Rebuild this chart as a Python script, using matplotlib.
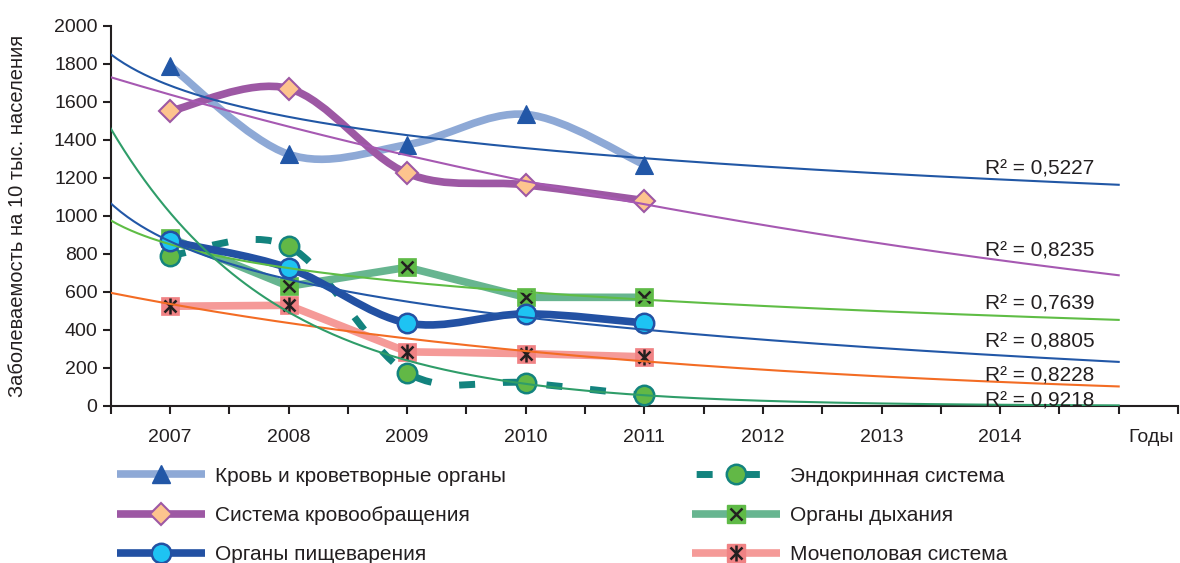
import numpy as np
import matplotlib
matplotlib.use("Agg")
import matplotlib.pyplot as plt
from matplotlib.path import Path
from matplotlib.patches import PathPatch
from matplotlib.lines import Line2D
from matplotlib.legend_handler import HandlerTuple

plt.rcParams['font.family'] = ['Liberation Sans', 'DejaVu Sans']

# ---- data -------------------------------------------------------------
years = [2007, 2008, 2009, 2010, 2011]
tick_years = [2007, 2008, 2009, 2010, 2011, 2012, 2013, 2014]

blood = [1790, 1325, 1375, 1535, 1270]          # Кровь и кроветворные органы
circulation = [1552, 1671, 1225, 1164, 1081]    # Система кровообращения
digestion = [866, 726, 437, 485, 437]           # Органы пищеварения
endocrine = [791, 840, 175, 122, 56]            # Эндокринная система
respiration = [885, 630, 730, 572, 572]         # Органы дыхания
urogenital = [525, 530, 285, 276, 259]          # Мочеполовая система

r2_texts = ["R² = 0,5227", "R² = 0,8235", "R² = 0,7639",
            "R² = 0,8805", "R² = 0,8228", "R² = 0,9218"]
r2_y = [1249, 816, 537, 339, 156, 26]

labels = ["Кровь и кроветворные органы", "Система кровообращения",
          "Органы пищеварения", "Эндокринная система",
          "Органы дыхания", "Мочеполовая система"]

INK = '#231F20'

# ---- figure -----------------------------------------------------------
W, H = 1180, 563
fig = plt.figure(figsize=(W / 100, H / 100), dpi=100)
ax = fig.add_axes([110.7 / W, 1 - 406 / H, (1178 - 110.7) / W, (406 - 26) / H])
ax.set_xlim(2006.5, 2015.5)
ax.set_ylim(0, 2000)


def smooth_path(xs, ys):
    """Cubic Bezier path through the points (cardinal spline)."""
    pts = np.column_stack([xs, ys]).astype(float)
    n = len(pts)
    verts = [pts[0]]
    codes = [Path.MOVETO]
    for i in range(n - 1):
        p0 = pts[i - 1] if i > 0 else pts[i]
        p1, p2 = pts[i], pts[i + 1]
        p3 = pts[i + 2] if i + 2 < n else pts[i + 1]
        verts += [p1 + (p2 - p0) / 6, p2 - (p3 - p1) / 6, p2]
        codes += [Path.CURVE4] * 3
    return Path(verts, codes)


def smooth_line(xs, ys, color, lw, z, ls='-'):
    patch = PathPatch(smooth_path(xs, ys), fill=False, edgecolor=color,
                      linewidth=lw, linestyle=ls, capstyle='butt',
                      joinstyle='round', zorder=z)
    ax.add_patch(patch)


LW = 5.5
# series lines
smooth_line(years, blood, '#8EA9D6', LW, 2)
smooth_line(years, circulation, '#9D58A4', LW, 2.1)
smooth_line(years, endocrine, '#13837E', 5, 2.2, ls=(0, (2.3, 4.0)))
ax.plot(years, respiration, color='#67B590', lw=LW, zorder=2.3,
        solid_capstyle='butt')
ax.plot(years, urogenital, color='#F59A98', lw=LW, zorder=2.4,
        solid_capstyle='butt')
smooth_line(years, digestion, '#2351A3', LW, 2.5)

# markers
ax.plot(years, blood, ls='none', marker='^', ms=12.5, mfc='#2257A7',
        mec='#2257A7', mew=0.8, zorder=4)
ax.plot(years, circulation, ls='none', marker='D', ms=11, mfc='#FDC48E',
        mec='#9D58A4', mew=1.5, zorder=4.1)
ax.plot(years, endocrine, ls='none', marker='o', ms=14, mfc='#62B846',
        mec='#13837E', mew=1.8, zorder=4.2)
ax.plot(years, respiration, ls='none', marker='s', ms=13.5, mfc='#5FBA47',
        mec='#5FBA47', mew=0.5, zorder=4.3)
ax.plot(years, respiration, ls='none', marker='x', ms=9, mec=INK, mew=1.8,
        zorder=4.31)
ax.plot(years, urogenital, ls='none', marker='s', ms=13.5, mfc='#F08284',
        mec='#F08284', mew=0.5, zorder=4.4)
ax.plot(years, urogenital, ls='none', marker='x', ms=9, mec=INK, mew=1.8,
        zorder=4.41)
ax.plot(years, urogenital, ls='none', marker='|', ms=11, mec=INK, mew=1.8,
        zorder=4.42)
ax.plot(years, digestion, ls='none', marker='o', ms=14, mfc='#1EC3F3',
        mec='#2351A3', mew=1.8, zorder=4.5)

# ---- trend lines (fitted on category index 1..5) ------------------------
t = np.array(years) - 2006
tt = np.linspace(0.5, 9, 300)


def log_trend(y):
    b, a = np.polyfit(np.log(t), np.asarray(y, float), 1)
    return a + b * np.log(tt)


def exp_trend(y):
    k, c = np.polyfit(t, np.log(np.asarray(y, float)), 1)
    return np.exp(c + k * tt)


trends = [
    (log_trend(blood), '#2157A5'),
    (exp_trend(circulation), '#A659B2'),
    (log_trend(respiration), '#5FBD45'),
    (log_trend(digestion), '#2257A7'),
    (exp_trend(urogenital), '#F36C24'),
    (exp_trend(endocrine), '#2F9D69'),
]
for yy, col in trends:
    ax.plot(2006 + tt, yy, color=col, lw=1.5, zorder=6)

for txt, yv in zip(r2_texts, r2_y):
    ax.text(2013.87, yv, txt, fontsize=15, color=INK, ha='left',
            va='center', zorder=7)

# ---- axes styling -------------------------------------------------------
for s in ('top', 'right'):
    ax.spines[s].set_visible(False)
for s in ('left', 'bottom'):
    ax.spines[s].set_linewidth(1.5)
    ax.spines[s].set_color(INK)

ax.set_yticks(np.arange(0, 2001, 200))
ax.set_xticks(tick_years)
ax.set_xticks(np.arange(2006.5, 2015.6, 0.5), minor=True)
ax.tick_params(axis='both', which='both', direction='out', length=5.5,
               width=1.5, color=INK, labelcolor=INK, labelsize=14)
ax.tick_params(axis='x', which='both', pad=11)
ax.tick_params(axis='y', pad=4)

fig.text(1128 / W, 1 - 437 / H, "Годы", fontsize=14, color=INK,
         ha='left', va='center')
fig.text(18 / W, 1 - 216 / H, "Заболеваемость на 10 тыс. населения",
         fontsize=14.5, color=INK, rotation=90, ha='center', va='center')

# ---- legend -------------------------------------------------------------
def line_handle(color, lw=LW, ls='-'):
    return Line2D([], [], color=color, lw=lw, ls=ls, solid_capstyle='butt',
                  dash_capstyle='butt')


h_blood = (line_handle('#8EA9D6'),
           Line2D([], [], ls='none', marker='^', ms=12.5, mfc='#2257A7',
                  mec='#2257A7'))
h_circ = (line_handle('#9D58A4'),
          Line2D([], [], ls='none', marker='D', ms=11, mfc='#FDC48E',
                 mec='#9D58A4', mew=1.5))
h_dig = (line_handle('#2351A3'),
         Line2D([], [], ls='none', marker='o', ms=14, mfc='#1EC3F3',
                mec='#2351A3', mew=1.8))
h_endo = (Line2D([], [], color='#13837E', lw=5, ls=(6.2, (2.3, 4.5)),
                 dash_capstyle='butt'),
          Line2D([], [], ls='none', marker='o', ms=14, mfc='#62B846',
                 mec='#13837E', mew=1.8))
h_resp = (line_handle('#67B590'),
          Line2D([], [], ls='none', marker='s', ms=13.5, mfc='#5FBA47',
                 mec='#5FBA47'),
          Line2D([], [], ls='none', marker='x', ms=9, mec=INK, mew=1.8))
h_uro = (line_handle('#F59A98'),
         Line2D([], [], ls='none', marker='s', ms=13.5, mfc='#F08284',
                mec='#F08284'),
         Line2D([], [], ls='none', marker='x', ms=9, mec=INK, mew=1.8),
         Line2D([], [], ls='none', marker='|', ms=11, mec=INK, mew=1.8))

leg_kw = dict(loc='center left', frameon=False, borderpad=0,
              borderaxespad=0, handlelength=4.2, handletextpad=0.5,
              labelspacing=0.98,
              prop={'family': ['Liberation Sans Narrow', 'Liberation Sans'],
                    'size': 15},
              handler_map={tuple: HandlerTuple(ndivide=1, pad=0)})
leg1 = fig.legend([h_blood, h_circ, h_dig], labels[:3],
                  bbox_to_anchor=(117 / W, 1 - 515.5 / H), **leg_kw)
for txt in leg1.get_texts():
    txt.set_color(INK)
leg2 = fig.legend([h_endo, h_resp, h_uro], labels[3:],
                  bbox_to_anchor=(692 / W, 1 - 515.5 / H), **leg_kw)
for txt in leg2.get_texts():
    txt.set_color(INK)

fig.savefig("out.png", dpi=100)
